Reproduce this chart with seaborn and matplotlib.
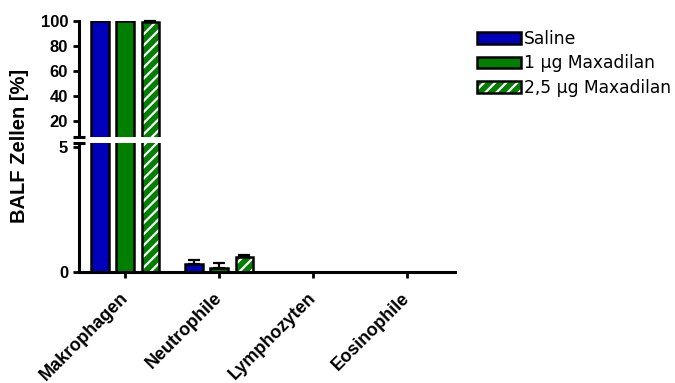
import matplotlib
matplotlib.use("Agg")
import matplotlib.pyplot as plt
import matplotlib.patches as mpatches
import matplotlib.transforms as mtransforms
import seaborn as sns
import pandas as pd

# Cell fractions in bronchoalveolar lavage fluid (mean and upper SEM)
categories = ["Makrophagen", "Neutrophile", "Lymphozyten", "Eosinophile"]
groups = ["Saline", "1 µg Maxadilan", "2,5 µg Maxadilan"]
saline = [99.70, 0.30, 0.0, 0.0]
saline_err = [0.0, 0.17, 0.0, 0.0]
maxa_1 = [99.85, 0.14, 0.0, 0.0]
maxa_1_err = [0.0, 0.19, 0.0, 0.0]
maxa_25 = [99.20, 0.60, 0.0, 0.0]
maxa_25_err = [0.60, 0.08, 0.0, 0.0]

values = [saline, maxa_1, maxa_25]
errors = [saline_err, maxa_1_err, maxa_25_err]
colors = ["#0000BB", "#007F00", "#007F00"]
hatches = ["", "", "///"]

df = pd.DataFrame({
    "Zelltyp": [c for _ in groups for c in categories],
    "Gruppe": [g for g in groups for _ in categories],
    "Anteil": [v for vals in values for v in vals],
})

sns.set_style("white")
plt.rcParams["font.family"] = ["Liberation Sans", "DejaVu Sans"]
plt.rcParams.update({
    "hatch.linewidth": 1.6,
    "text.color": "black",
    "axes.labelcolor": "black",
    "axes.edgecolor": "black",
    "xtick.color": "black",
    "ytick.color": "black",
})

W, H = 675, 383
fig = plt.figure(figsize=(W / 100, H / 100), dpi=100)

x_left, x_right = 79, 455
y_zero, y_low_top = 271.7, 143.3
y_hi_bot, y_hi_top = 137.3, 20.7


def ax_rect(y_bottom_px, y_top_px):
    return [x_left / W, 1 - y_bottom_px / H, (x_right - x_left) / W,
            (y_bottom_px - y_top_px) / H]


ax_lo = fig.add_axes(ax_rect(y_zero, y_low_top))
ax_hi = fig.add_axes(ax_rect(y_hi_bot, y_hi_top), sharex=ax_lo)
limits = {ax_lo: (0, 5.14), ax_hi: (6.7, 100)}

LW = 2.2
for ax in (ax_lo, ax_hi):
    lo, hi = limits[ax]
    sns.barplot(data=df, x="Zelltyp", y="Anteil", hue="Gruppe",
                order=categories, hue_order=groups, palette=colors,
                saturation=1, width=0.81, gap=0.3, errorbar=None,
                edgecolor="black", linewidth=1.8, legend=False, ax=ax)
    ax.set_ylim(lo, hi)
    for cont, errs, hatch in zip(ax.containers, errors, hatches):
        for patch, e in zip(cont.patches, errs):
            if hatch:
                patch.set_hatch(hatch)
                patch._hatch_color = (1.0, 1.0, 1.0, 1.0)
            top = patch.get_height()
            if e > 0 and lo < top <= hi:
                cx = patch.get_x() + patch.get_width() / 2
                ax.errorbar(cx, top, yerr=[[0], [e]], color="black",
                            elinewidth=1.6, capsize=4.5, capthick=1.6,
                            clip_on=False, zorder=1)
    for side in ("top", "right"):
        ax.spines[side].set_visible(False)
    ax.spines["left"].set_linewidth(LW)
    ax.spines["bottom"].set_linewidth(LW)
    ax.set_xlabel("")
    ax.set_ylabel("")
    ax.tick_params(axis="y", direction="out", length=4.3, width=2.0,
                   pad=3.5, labelsize=12, left=True)

ax_lo.set_xlim(-0.49, 3.51)
ax_lo.set_yticks([0, 5])
ax_lo.set_yticklabels(["0", "5"], fontweight="bold", fontsize=12)

ax_hi.set_yticks([20, 40, 60, 80, 100])
ax_hi.set_yticklabels(["20", "40", "60", "80", "100"], fontweight="bold",
                      fontsize=12)
ax_hi.spines["bottom"].set_visible(False)
ax_hi.tick_params(axis="x", bottom=False, labelbottom=False)

ax_lo.tick_params(axis="x", direction="out", length=4.3, width=2.0,
                  bottom=True, pad=5)
ax_lo.set_xticks(range(len(categories)))
ax_lo.set_xticklabels(categories, rotation=45, ha="right", va="top",
                      rotation_mode="anchor", fontweight="bold", fontsize=13)
shift = mtransforms.ScaledTranslation(-6 / 100, -5 / 100, fig.dpi_scale_trans)
for lbl in ax_lo.get_xticklabels():
    lbl.set_transform(lbl.get_transform() + shift)

# short caps where the y axis is interrupted
ax_hi.plot([0], [0], transform=ax_hi.transAxes, marker="_", markersize=9,
           mew=2.2, color="black", clip_on=False)
ax_lo.plot([0], [1], transform=ax_lo.transAxes, marker="_", markersize=9,
           mew=2.2, color="black", clip_on=False)

fig.text(20 / W, 1 - 146 / H, "BALF Zellen [%]", rotation=90, ha="center",
         va="center", fontsize=14.5, fontweight="bold")

handles = []
for c, h in zip(colors, hatches):
    p = mpatches.Patch(facecolor=c, edgecolor="black", linewidth=1.8,
                       hatch=h or None)
    if h:
        p._hatch_color = (1.0, 1.0, 1.0, 1.0)
    handles.append(p)
fig.legend(handles, groups, loc="upper left",
           bbox_to_anchor=(477 / W, 1 - 30 / H), frameon=False,
           borderpad=0, borderaxespad=0, handlelength=2.6, handleheight=0.7,
           handletextpad=0.15, labelspacing=0.38,
           prop={"family": "DejaVu Sans", "size": 12.3})

fig.savefig("out.png", dpi=100)
